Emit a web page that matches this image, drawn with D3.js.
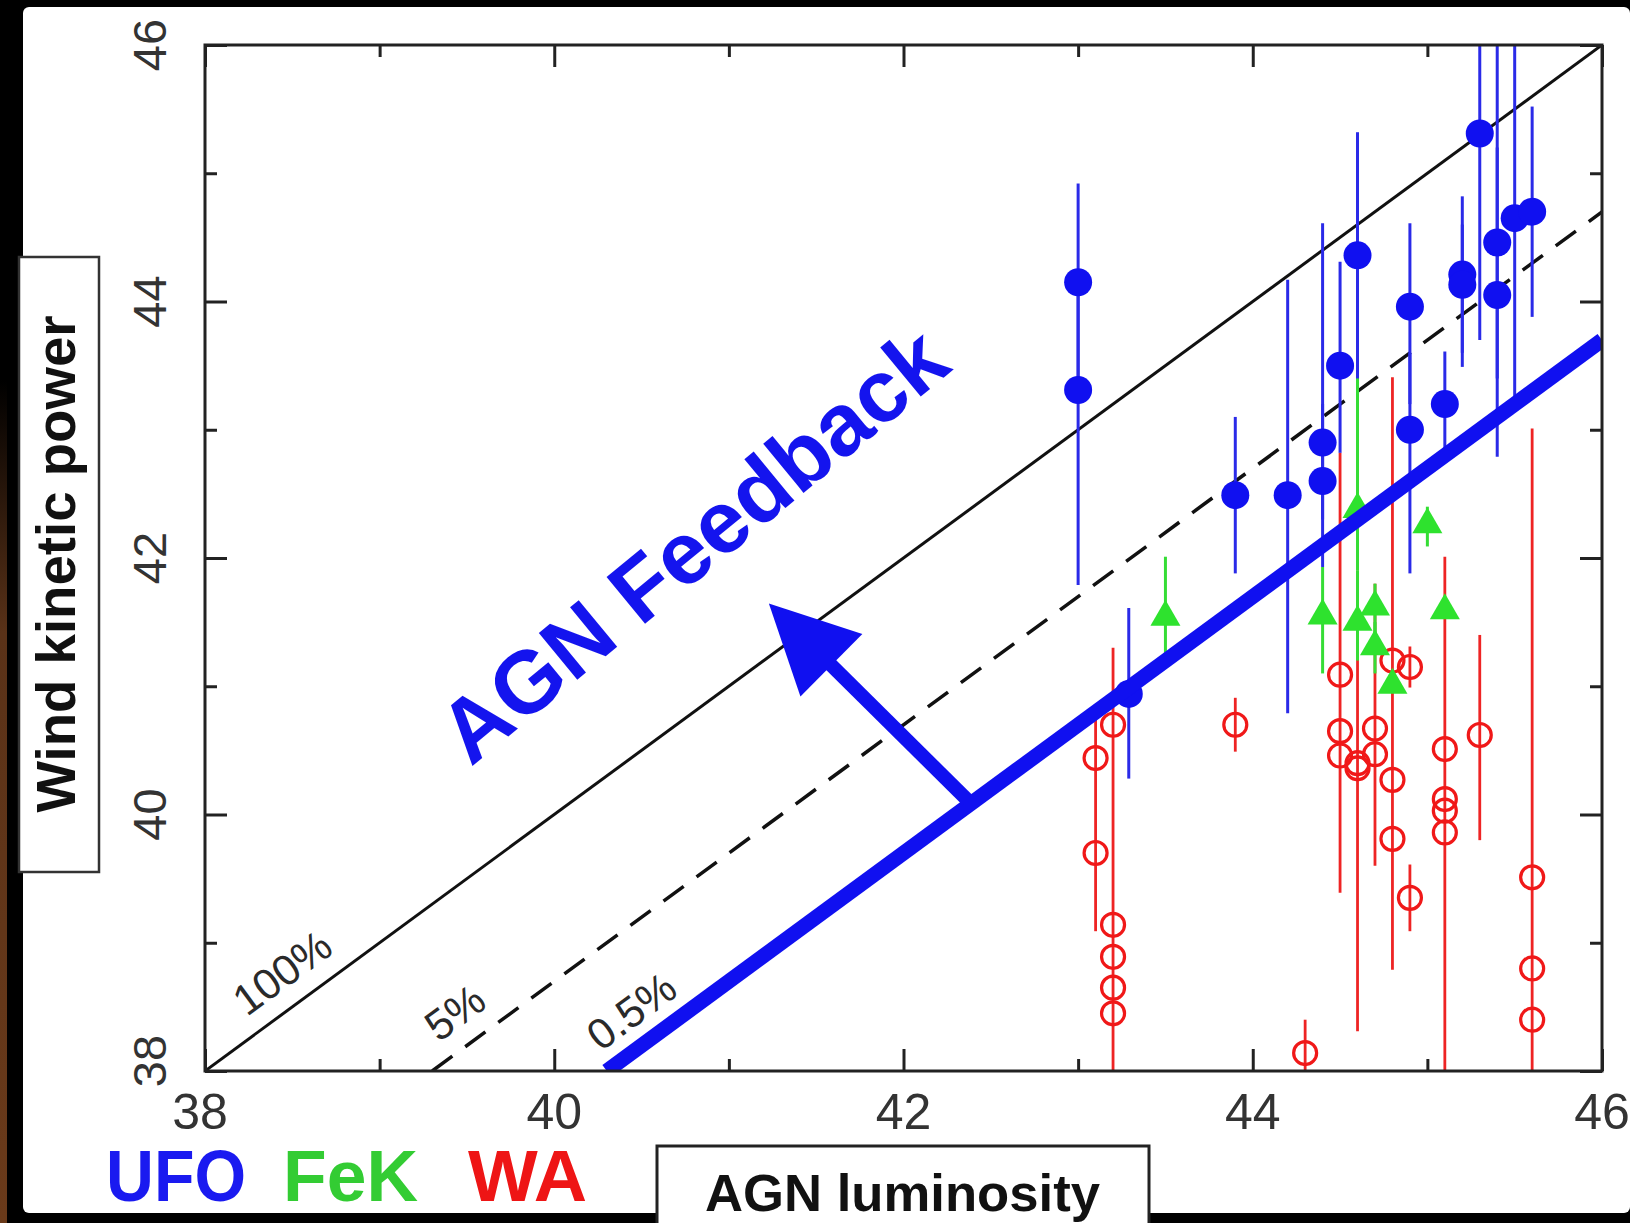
<!DOCTYPE html>
<html>
<head>
<meta charset="utf-8">
<script src="https://cdn.jsdelivr.net/npm/d3@7"></script>
<style>
  html, body { margin: 0; padding: 0; background: #000; }
  svg { display: block; }
  text { font-family: "Liberation Sans", Arial, Helvetica, sans-serif; }
</style>
</head>
<body>
<div id="chart"></div>
<script>
const W = 1630, H = 1223;

// ticks (log scale values)
const majorTicks = [38, 40, 42, 44, 46];
const minorTicks = [39, 41, 43, 45];

// efficiency lines  P_kin = frac * L_AGN
const effLabels = ["100%", "5%", "0.5%"];
const effFracs = [1, 0.05, 0.005];

// UFO  [log L, log P, err low, err high]
const ufo = [
  [43.0, 44.15, 43.3, 44.92],
  [43.0, 43.31, 41.79, 44.15],
  [43.29, 40.94, 40.28, 41.61],
  [43.9, 42.49, 41.88, 43.10],
  [44.2, 42.49, 40.79, 44.17],
  [44.4, 42.90, 42.3, 44.61],
  [44.4, 42.60, 41.93, 43.2],
  [44.5, 43.50, 42.82, 44.31],
  [44.6, 44.36, 43.4, 45.32],
  [44.9, 43.96, 43.2, 44.61],
  [44.9, 43.00, 41.88, 43.6],
  [45.1, 43.20, 42.83, 43.61],
  [45.2, 44.21, 43.49, 44.82],
  [45.2, 44.13, 43.6, 44.6],
  [45.3, 45.31, 43.70, 46.5],
  [45.4, 44.46, 43.4, 46.5],
  [45.4, 44.05, 42.79, 45.2],
  [45.5, 44.65, 43.2, 46.5],
  [45.6, 44.70, 43.88, 45.52]
];

// FeK
const fek = [
  [43.5, 41.54, 41.26, 42.01],
  [44.4, 41.55, 41.10, 41.93],
  [44.6, 42.38, 41.9, 43.41],
  [44.6, 41.50, 41.2, 41.9],
  [44.7, 41.62, 41.35, 41.80],
  [44.7, 41.31, 41.1, 41.5],
  [44.8, 41.01, null, null],
  [45.0, 42.26, 42.09, 42.40],
  [45.1, 41.59, null, null]
];

// WA
const wa = [
  [43.1, 40.44, 39.09, 40.75],
  [43.1, 39.70, null, null],
  [43.2, 40.70, 37.9, 41.30],
  [43.2, 39.14, null, null],
  [43.2, 38.89, null, null],
  [43.2, 38.65, null, null],
  [43.2, 38.45, null, null],
  [43.9, 40.70, 40.49, 40.91],
  [44.3, 38.14, 37.9, 38.40],
  [44.5, 41.09, 39.39, 42.82],
  [44.5, 40.65, null, null],
  [44.5, 40.46, null, null],
  [44.6, 40.40, 38.31, 41.9],
  [44.6, 40.36, null, null],
  [44.7, 40.67, 39.60, 41.80],
  [44.7, 40.47, null, null],
  [44.8, 41.20, 38.79, 43.41],
  [44.8, 40.27, null, null],
  [44.8, 39.81, null, null],
  [44.9, 41.15, 40.99, 41.31],
  [44.9, 39.35, 39.09, 39.61],
  [45.1, 40.51, 37.9, 42.01],
  [45.1, 40.12, null, null],
  [45.1, 40.03, null, null],
  [45.1, 39.86, null, null],
  [45.3, 40.62, 39.80, 41.40],
  [45.6, 39.51, 37.9, 43.01],
  [45.6, 38.80, null, null],
  [45.6, 38.40, null, null]
];

// annotation anchors (data coords)
const effLabelAt = [[38.44, 38.77], [39.43, 38.46], [40.44, 38.47]];
const arrowFrom = [42.366, 40.113];
const arrowTo = [41.229, 41.646];
const feedbackAt = [40.79, 42.11];

const legendNames = ["UFO", "FeK", "WA"];

const BLUE = "#1010f0", GREEN = "#2ee22e", RED = "#f01818";

const svg = d3.select("#chart").append("svg")
  .attr("width", W).attr("height", H)
  .attr("viewBox", `0 0 ${W} ${H}`);

// --- background ---
const defs = svg.append("defs");
const grad = defs.append("linearGradient").attr("id", "edge")
  .attr("x1", 0).attr("y1", 0).attr("x2", 0).attr("y2", 1);
grad.append("stop").attr("offset", "0").attr("stop-color", "#000");
grad.append("stop").attr("offset", "0.3").attr("stop-color", "#5a3218");
grad.append("stop").attr("offset", "1").attr("stop-color", "#6a3a1a");

svg.append("rect").attr("width", W).attr("height", H).attr("fill", "#000");
svg.append("rect").attr("x", 0).attr("y", 380).attr("width", 7).attr("height", 843)
  .attr("fill", "url(#edge)");
svg.append("rect").attr("x", 23).attr("y", 7).attr("width", W - 23).attr("height", 1206)
  .attr("rx", 6).attr("fill", "#fff");

// --- scales ---
const x = d3.scaleLinear().domain([38, 46]).range([205, 1602]);
const y = d3.scaleLinear().domain([38, 46]).range([1071, 45]);
const slopeDeg = -Math.atan((y(38) - y(39)) / (x(39) - x(38))) * 180 / Math.PI;

defs.append("clipPath").attr("id", "plot")
  .append("rect").attr("x", x(38)).attr("y", y(46))
  .attr("width", x(46) - x(38)).attr("height", y(38) - y(46));

const plot = svg.append("g").attr("clip-path", "url(#plot)");

// efficiency lines
const effLine = f => {
  const off = Math.log10(f);
  return [[38 - off, 38], [46, 46 + off]];
};
plot.append("line")
  .attr("x1", x(effLine(effFracs[0])[0][0])).attr("y1", y(effLine(effFracs[0])[0][1]))
  .attr("x2", x(effLine(effFracs[0])[1][0])).attr("y2", y(effLine(effFracs[0])[1][1]))
  .attr("stroke", "#111").attr("stroke-width", 3);
plot.append("line")
  .attr("x1", x(effLine(effFracs[1])[0][0])).attr("y1", y(effLine(effFracs[1])[0][1]))
  .attr("x2", x(effLine(effFracs[1])[1][0])).attr("y2", y(effLine(effFracs[1])[1][1]))
  .attr("stroke", "#111").attr("stroke-width", 3.5)
  .attr("stroke-dasharray", "25,16");

// error bars + markers
function bars(data, color, w) {
  plot.append("g").selectAll("line")
    .data(data.filter(d => d[2] !== null))
    .enter().append("line")
    .attr("x1", d => x(d[0])).attr("x2", d => x(d[0]))
    .attr("y1", d => y(d[2])).attr("y2", d => y(d[3]))
    .attr("stroke", color).attr("stroke-width", w);
}

bars(wa, "#ee2424", 2.8);
plot.append("g").selectAll("circle").data(wa).enter().append("circle")
  .attr("cx", d => x(d[0])).attr("cy", d => y(d[1])).attr("r", 11.5)
  .attr("fill", "none").attr("stroke", RED).attr("stroke-width", 3.2);

bars(fek, "#35dd35", 3);
plot.append("g").selectAll("path").data(fek).enter().append("path")
  .attr("transform", d => `translate(${x(d[0])},${y(d[1])})`)
  .attr("d", d3.symbol(d3.symbolTriangle, 390))
  .attr("fill", GREEN);

bars(ufo, "#2a2ae8", 3);
plot.append("g").selectAll("circle").data(ufo).enter().append("circle")
  .attr("cx", d => x(d[0])).attr("cy", d => y(d[1])).attr("r", 14)
  .attr("fill", BLUE);

// 0.5% thick line
plot.append("line")
  .attr("x1", x(effLine(effFracs[2])[0][0])).attr("y1", y(effLine(effFracs[2])[0][1]))
  .attr("x2", x(effLine(effFracs[2])[1][0])).attr("y2", y(effLine(effFracs[2])[1][1]))
  .attr("stroke", BLUE).attr("stroke-width", 15);

// arrow
const ax0 = x(arrowFrom[0]), ay0 = y(arrowFrom[1]);
const ax1 = x(arrowTo[0]), ay1 = y(arrowTo[1]);
const len = Math.hypot(ax1 - ax0, ay1 - ay0);
const ux = (ax1 - ax0) / len, uy = (ay1 - ay0) / len;
const headLen = 88, headHalf = 44;
const hbx = ax1 - ux * headLen, hby = ay1 - uy * headLen;
svg.append("line")
  .attr("x1", ax0).attr("y1", ay0).attr("x2", hbx + ux * 4).attr("y2", hby + uy * 4)
  .attr("stroke", BLUE).attr("stroke-width", 14);
svg.append("path")
  .attr("d", `M${ax1},${ay1} L${hbx - uy * headHalf},${hby + ux * headHalf} L${hbx + uy * headHalf},${hby - ux * headHalf} Z`)
  .attr("fill", BLUE);

// AGN Feedback text
svg.append("text")
  .attr("transform", `translate(${x(feedbackAt[0])},${y(feedbackAt[1])}) rotate(-39.5)`)
  .attr("text-anchor", "middle").attr("dy", "0.36em")
  .attr("font-size", 88).attr("font-weight", "bold").attr("fill", "#1414ee")
  .text("AGN Feedback");

// efficiency labels
effLabels.forEach((t, i) => {
  svg.append("text")
    .attr("transform", `translate(${x(effLabelAt[i][0])},${y(effLabelAt[i][1])}) rotate(${slopeDeg})`)
    .attr("text-anchor", "middle").attr("dy", "0.36em")
    .attr("font-size", 43).attr("fill", "#2a2a2a")
    .text(t);
});

// --- axes (ticks inward on all sides) ---
function styleAxis(g) {
  g.select(".domain").remove();
  g.selectAll(".tick line").attr("stroke", "#222").attr("stroke-width", 3);
}
const majorLen = 22, minorLen = 12;
svg.append("g").attr("transform", `translate(0,${y(38)})`)
  .call(d3.axisBottom(x).tickValues(majorTicks).tickSize(-majorLen).tickFormat(""))
  .call(styleAxis);
svg.append("g").attr("transform", `translate(0,${y(38)})`)
  .call(d3.axisBottom(x).tickValues(minorTicks).tickSize(-minorLen).tickFormat(""))
  .call(styleAxis);
svg.append("g").attr("transform", `translate(0,${y(46)})`)
  .call(d3.axisTop(x).tickValues(majorTicks).tickSize(-majorLen).tickFormat(""))
  .call(styleAxis);
svg.append("g").attr("transform", `translate(0,${y(46)})`)
  .call(d3.axisTop(x).tickValues(minorTicks).tickSize(-minorLen).tickFormat(""))
  .call(styleAxis);
svg.append("g").attr("transform", `translate(${x(38)},0)`)
  .call(d3.axisLeft(y).tickValues(majorTicks).tickSize(-majorLen).tickFormat(""))
  .call(styleAxis);
svg.append("g").attr("transform", `translate(${x(38)},0)`)
  .call(d3.axisLeft(y).tickValues(minorTicks).tickSize(-minorLen).tickFormat(""))
  .call(styleAxis);
svg.append("g").attr("transform", `translate(${x(46)},0)`)
  .call(d3.axisRight(y).tickValues(majorTicks).tickSize(-majorLen).tickFormat(""))
  .call(styleAxis);
svg.append("g").attr("transform", `translate(${x(46)},0)`)
  .call(d3.axisRight(y).tickValues(minorTicks).tickSize(-minorLen).tickFormat(""))
  .call(styleAxis);

svg.append("rect")
  .attr("x", x(38)).attr("y", y(46))
  .attr("width", x(46) - x(38)).attr("height", y(38) - y(46))
  .attr("fill", "none").attr("stroke", "#222").attr("stroke-width", 3);

// tick labels
svg.append("g").selectAll("text").data(majorTicks).enter().append("text")
  .attr("x", d => x(d) - (d === 38 ? 5 : 0)).attr("y", 1129)
  .attr("text-anchor", "middle").attr("font-size", 50).attr("fill", "#333")
  .text(d => d);
svg.append("g").selectAll("text").data(majorTicks).enter().append("text")
  .attr("transform", d => `translate(166,${y(d) - (d === 38 ? 10 : 0)}) rotate(-90)`)
  .attr("text-anchor", "middle").attr("font-size", 47).attr("fill", "#333")
  .text(d => d);

// y title box
svg.append("rect").attr("x", 19).attr("y", 257).attr("width", 80).attr("height", 615)
  .attr("fill", "#fff").attr("stroke", "#333").attr("stroke-width", 2.5);
svg.append("text")
  .attr("transform", `translate(75,564) rotate(-90)`)
  .attr("text-anchor", "middle").attr("font-size", 55).attr("font-weight", "bold")
  .attr("fill", "#111").attr("textLength", 497).attr("lengthAdjust", "spacingAndGlyphs")
  .text("Wind kinetic power");

// x title box
svg.append("rect").attr("x", 657).attr("y", 1146).attr("width", 492).attr("height", 90)
  .attr("fill", "#fff").attr("stroke", "#222").attr("stroke-width", 3);
svg.append("text")
  .attr("x", 705).attr("y", 1211)
  .attr("font-size", 52).attr("font-weight", "bold").attr("fill", "#111")
  .attr("textLength", 395).attr("lengthAdjust", "spacingAndGlyphs")
  .text("AGN luminosity");

// legend words
const legendColors = ["#1a1af0", "#33cc33", "#ee1515"];
const legendX = [106, 283, 468];
const legendW = [140, 135, 119];
legendNames.forEach((t, i) => {
  svg.append("text")
    .attr("x", legendX[i]).attr("y", 1201)
    .attr("font-size", 72).attr("font-weight", "bold").attr("fill", legendColors[i])
    .attr("textLength", legendW[i]).attr("lengthAdjust", "spacingAndGlyphs")
    .text(t);
});
</script>
</body>
</html>
